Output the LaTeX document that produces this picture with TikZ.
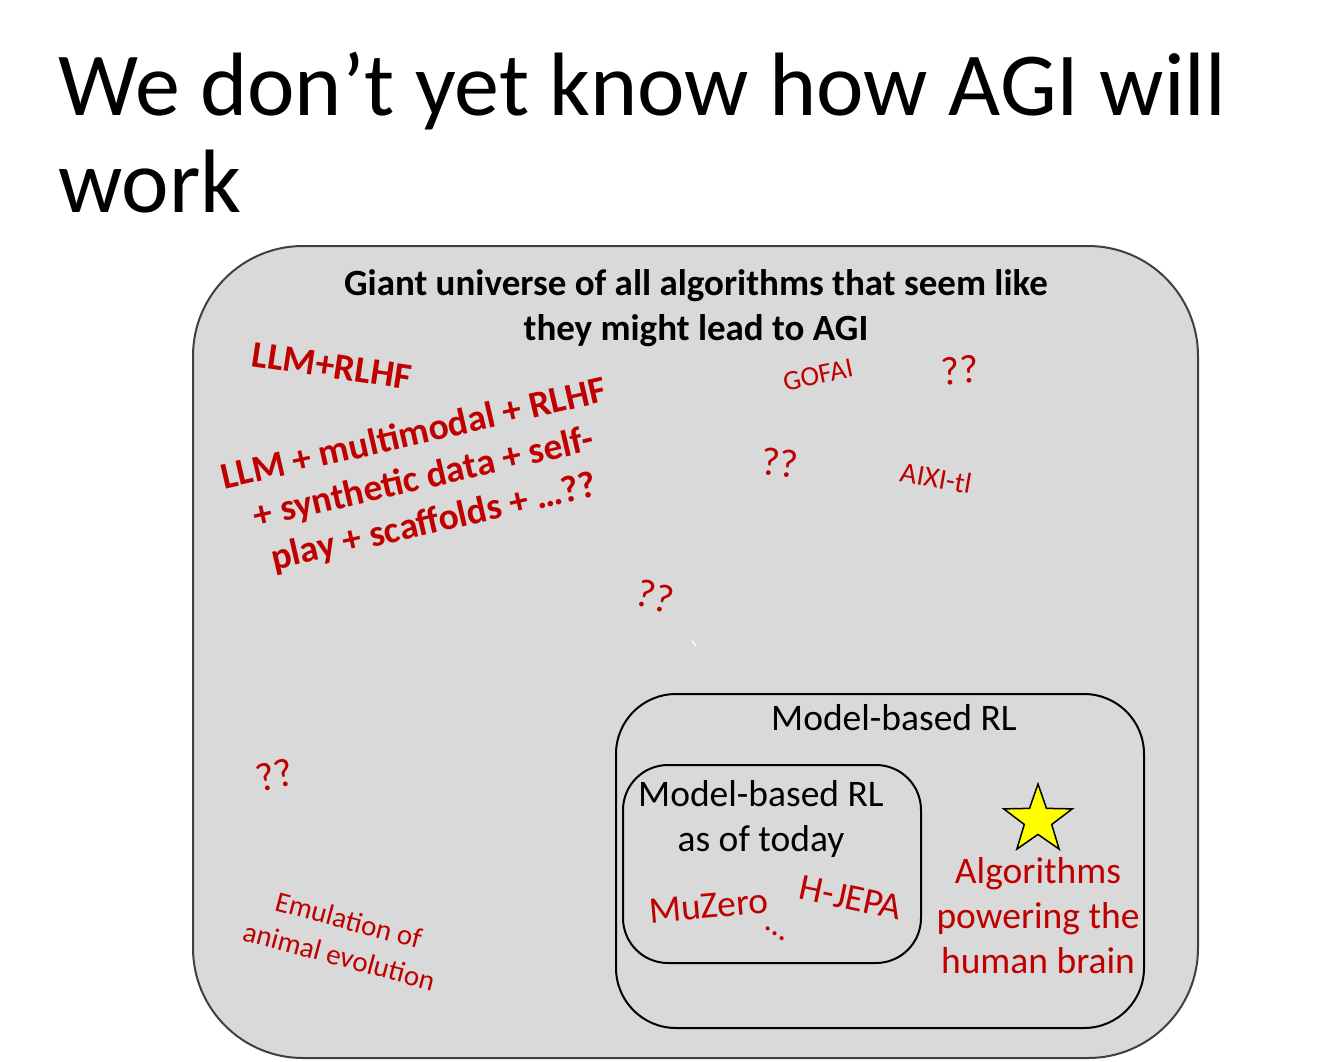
\documentclass[tikz,border=0pt]{standalone}
\usepackage{fontspec}
\setmainfont{Carlito}
\usepackage{xcolor}
\usetikzlibrary{shapes.geometric}
\definecolor{SlideRed}{RGB}{192,0,0}
\definecolor{BoxGray}{RGB}{217,217,217}
\definecolor{EdgeGray}{RGB}{64,64,64}
\definecolor{StarYellow}{RGB}{255,255,0}

\begin{document}
\begin{tikzpicture}[x=1pt, y=-1pt,
          ttl/.style={anchor=base west, inner sep=0pt,
                      font=\fontsize{90}{96}\selectfont},
          setbox/.style={rounded corners=#1, line width=2pt},
          blk/.style={inner sep=0pt, align=center,
                      font=\fontsize{37.5}{45}\selectfont},
          hd/.style={inner sep=0pt, align=center,
                     font=\bfseries\fontsize{37}{45}\selectfont},
          rd/.style={inner sep=0pt, align=center, text=SlideRed,
                     font=\fontsize{#1}{#1}\selectfont},
          rdb/.style={inner sep=0pt, align=center, text=SlideRed,
                      font=\bfseries\fontsize{37.5}{45}\selectfont}
        ]
        \useasboundingbox (0,0) rectangle (1334,1061);
        \fill[white] (0,0) rectangle (1334,1061);

        % title
        \node[ttl] (ttl1) at (58,115) {We don’t yet know how AGI will};
        \node[ttl] (ttl2) at (58,212) {work};

        % the three sets
        \draw[setbox=110, fill=BoxGray, draw=EdgeGray]
              (193,246) rectangle (1198,1058);
        \draw[setbox=60]  (616,694) rectangle (1144,1028);
        \draw[setbox=45]  (623,765) rectangle (921,963);

        \node[hd] (univ) at (696,308)
              {Giant universe of all algorithms that seem like\\they might lead to AGI};
        \node[blk] (mbrl) at (894,718) {Model-based RL};
        \node[blk] (today) at (761,819) {Model-based RL\\as of today};

        % candidates in the universe
        \node[rdb, rotate=-8.5] (rlhf) at (332,366) {LLM+RLHF};
        \node[rdb, rotate=13] (combo) at (424,479)
              {LLM + multimodal + RLHF\\+ synthetic data + self-\\play + scaffolds + …??};
        \node[rd=28, rotate=12]  (gofai) at (818,375) {GOFAI};
        \node[rd=40, rotate=5]   (q1)    at (960,370) {??};
        \node[rd=40, rotate=-5]  (q2)    at (780,463) {??};
        \node[rd=29, rotate=-10] (aixi)  at (936,478) {AIXI-tl};
        \node[rd=40, rotate=-15] (q3)    at (655,596) {??};
        \draw[white, line width=1.5pt, line cap=round] (692,641) -- (696,646);
        \node[rd=40, rotate=15]  (q4)    at (275,775) {??};
        \node[rd=29, rotate=-15, font=\fontsize{29}{37}\selectfont]
              (emul) at (344,938) {Emulation of\\animal evolution};

        % inside model-based RL
        \node[rd=37.5, rotate=5]   (muzero) at (709,906) {MuZero};
        \node[rd=37.5, rotate=-12] (hjepa)  at (851,898) {H-JEPA};
        \node[rd=34, rotate=-35]   (dots)   at (775,934) {…};
        \node[star, star points=5, star point ratio=2.5, draw=black,
              fill=StarYellow, line width=1.5pt, inner sep=0pt,
              minimum size=72pt] (brainstar) at (1038,820) {};
        \node[rd=37.5, font=\fontsize{37.5}{45}\selectfont] (brain) at (1038,916)
              {Algorithms\\powering the\\human brain};
      \end{tikzpicture}
\end{document}
